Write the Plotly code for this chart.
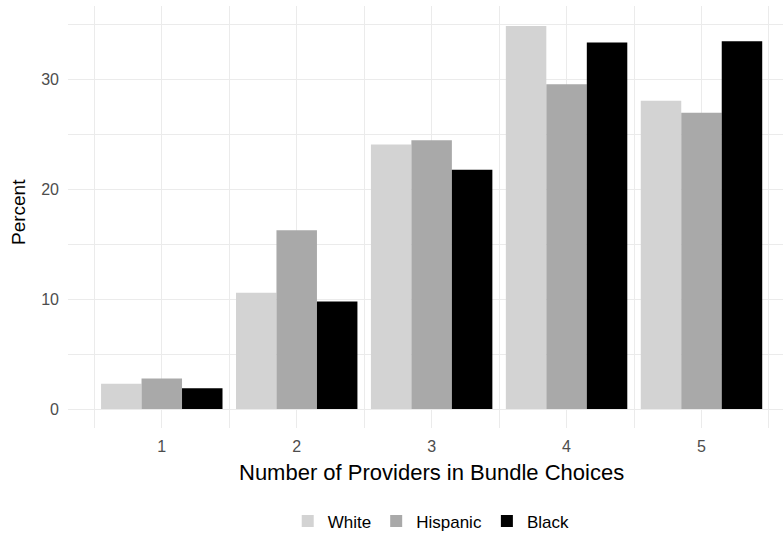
import plotly.graph_objects as go

providers = [1, 2, 3, 4, 5]
tick_labels = ["1", "2", "3", "4", "5"]
groups = ["White", "Hispanic", "Black"]
white = [2.3, 10.6, 24.1, 34.9, 28.1]
hispanic = [2.8, 16.3, 24.5, 29.6, 27.0]
black = [1.9, 9.8, 21.8, 33.4, 33.5]
colors = ["#d3d3d3", "#a9a9a9", "#000000"]

fig = go.Figure()
for name, vals, col in zip(groups, [white, hispanic, black], colors):
    fig.add_trace(go.Bar(x=providers, y=vals, name=name, marker=dict(color=col, line=dict(width=0))))

font = "Liberation Sans, Arial, sans-serif"
grid = "#ebebeb"
fig.update_layout(
    width=783, height=540,
    margin=dict(l=68, r=0, t=6, b=110),
    paper_bgcolor="white", plot_bgcolor="white",
    barmode="group", bargap=0.1, bargroupgap=0,
    font=dict(family=font, size=16, color="#4d4d4d"),
    showlegend=True,
    legend=dict(orientation="h", x=0.508, xanchor="center", y=(430 - 524) / 424, yanchor="middle",
                font=dict(size=17, color="#000000"), itemwidth=30, traceorder="normal"),
    xaxis=dict(range=[0.305, 5.604], tickvals=providers, ticktext=tick_labels,
               showgrid=True, gridcolor=grid, gridwidth=1.1, zeroline=False, showline=False,
               ticks="", ticklabelstandoff=7,
               tickfont=dict(size=16, color="#4d4d4d"),
               minor=dict(dtick=0.5, tick0=0.5, showgrid=True, gridcolor=grid, gridwidth=0.6)),
    yaxis=dict(range=[-1.72, 36.72], tickvals=[0, 10, 20, 30],
               showgrid=True, gridcolor=grid, gridwidth=1.1, zeroline=False, showline=False,
               ticks="", ticklabelstandoff=8,
               tickfont=dict(size=16, color="#4d4d4d"),
               minor=dict(dtick=5, tick0=5, showgrid=True, gridcolor=grid, gridwidth=0.6)),
)
fig.add_annotation(text="Number of Providers in Bundle Choices", xref="paper", yref="paper",
                   x=(431 - 68) / 715, y=(430 - 475) / 424, xanchor="center", yanchor="middle",
                   showarrow=False, font=dict(size=22, color="#000000", family=font))
fig.add_annotation(text="Percent", xref="paper", yref="paper",
                   x=(18 - 68) / 715, y=(430 - 213) / 424, xanchor="center", yanchor="middle",
                   textangle=-90,
                   showarrow=False, font=dict(size=19, color="#000000", family=font))

fig.write_html("out.html", config={"displayModeBar": False},
               post_script="document.body.style.margin='0';")
